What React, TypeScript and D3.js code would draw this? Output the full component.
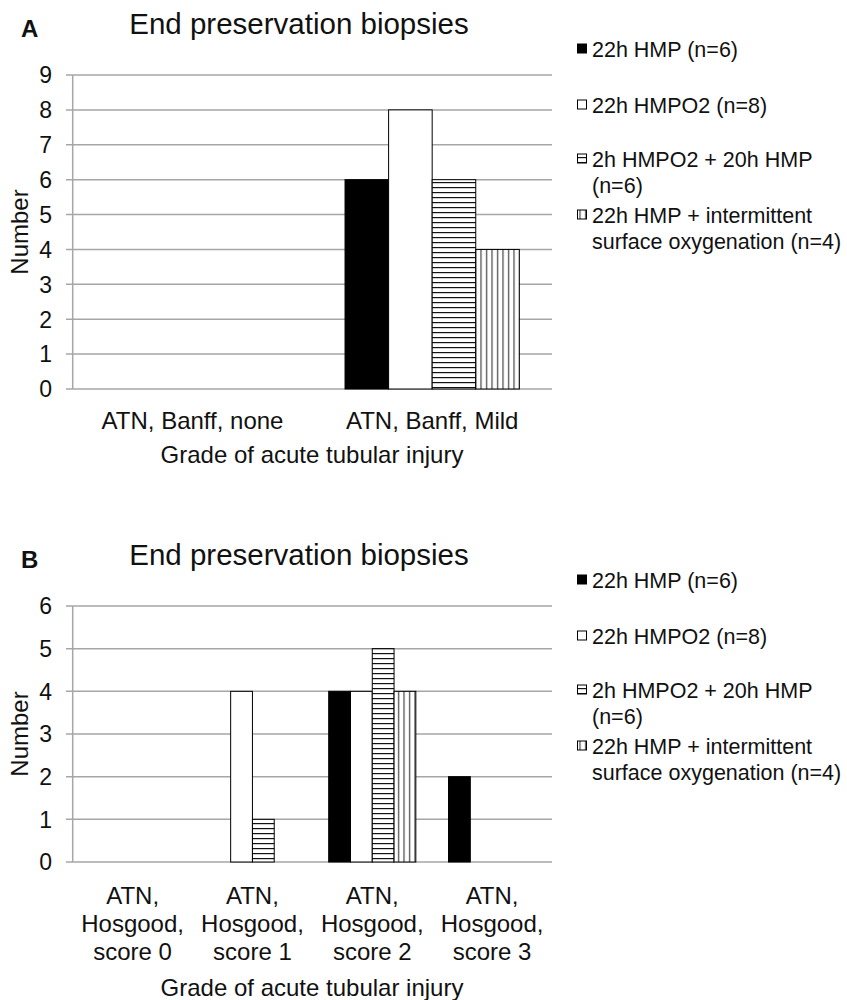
import { useEffect, useRef } from "react";
import * as d3 from "d3";

// legend text (wraps to two lines like the original)
const legendLines = [["22h HMP (n=6)"], ["22h HMPO2 (n=8)"], ["2h HMPO2 + 20h HMP", "(n=6)"], ["22h HMP + intermittent", "surface oxygenation (n=4)"]];

// panel A: Banff grade
const banffCats = ["ATN, Banff, none", "ATN, Banff, Mild"];
const banffHMP = [0, 6];
const banffHMPO2 = [0, 8];
const banffMixed = [0, 6];
const banffSurface = [0, 4];
const banffTicks = [0, 1, 2, 3, 4, 5, 6, 7, 8, 9];

// panel B: Hosgood score
const hosgoodCats = [["ATN,", "Hosgood,", "score 0"], ["ATN,", "Hosgood,", "score 1"], ["ATN,", "Hosgood,", "score 2"], ["ATN,", "Hosgood,", "score 3"]];
const hosgoodHMP = [0, 0, 4, 2];
const hosgoodHMPO2 = [0, 4, 4, 0];
const hosgoodMixed = [0, 1, 5, 0];
const hosgoodSurface = [0, 0, 4, 0];
const hosgoodTicks = [0, 1, 2, 3, 4, 5, 6];

const FONT = "'Liberation Sans', Arial, sans-serif";
const fills = ["#000", "#fff", "url(#hstripe)", "url(#vstripe)"];

const App = () => {
  const ref = useRef<SVGSVGElement>(null);

  useEffect(() => {
    const svg = d3.select(ref.current);
    svg.selectAll("*").remove();

    const defs = svg.append("defs");
    const h = defs.append("pattern").attr("id", "hstripe").attr("patternUnits", "userSpaceOnUse").attr("width", 6).attr("height", 5);
    h.append("rect").attr("width", 6).attr("height", 5).attr("fill", "#fff");
    h.append("rect").attr("y", 2).attr("width", 6).attr("height", 1.2).attr("fill", "#111");
    const v = defs.append("pattern").attr("id", "vstripe").attr("patternUnits", "userSpaceOnUse").attr("width", 5.5).attr("height", 6);
    v.append("rect").attr("width", 5.5).attr("height", 6).attr("fill", "#fff");
    v.append("rect").attr("x", 2).attr("width", 1.1).attr("height", 6).attr("fill", "#333");

    const drawPanel = (
      top: number,
      letter: string,
      cats: string[][],
      values: number[][],
      ticks: number[],
      plotBottom: number,
      catBaseline: number,
      gradeBaseline: number
    ) => {
      const g = svg.append("g").attr("transform", `translate(0,${top})`);
      const plotTop = 75;
      const x = d3.scaleBand<number>().domain(d3.range(cats.length)).range([72.7, 552]);
      const xs = d3.scaleBand<number>().domain(d3.range(values.length)).range([0, x.bandwidth()]).paddingOuter(0.75);
      const y = d3.scaleLinear().domain([0, d3.max(ticks)!]).range([plotBottom, plotTop]);

      // letter + title
      g.append("text").attr("x", 21).attr("y", 37).attr("font-family", FONT).attr("font-weight", "bold").attr("font-size", 24).attr("fill", "#111").text(letter);
      g.append("text").attr("x", 299).attr("y", 34).attr("text-anchor", "middle").attr("font-family", FONT).attr("font-size", 29.5).attr("fill", "#111").text("End preservation biopsies");

      // grid lines + ticks
      const grid = g.append("g");
      grid.selectAll("line.grid").data(ticks).enter().append("line")
        .attr("x1", 66).attr("x2", 552).attr("y1", (d) => y(d)).attr("y2", (d) => y(d))
        .attr("stroke", "#a6a6a6").attr("stroke-width", 1.5);
      grid.append("line").attr("x1", 72.7).attr("x2", 72.7).attr("y1", y(d3.max(ticks)!)).attr("y2", y(0))
        .attr("stroke", "#a6a6a6").attr("stroke-width", 1.5);
      g.selectAll("text.tick").data(ticks).enter().append("text")
        .attr("x", 52).attr("y", (d) => y(d)).attr("dy", "0.36em").attr("text-anchor", "end")
        .attr("font-family", FONT).attr("font-size", 23).attr("fill", "#111").text((d) => d);

      // bars
      values.forEach((series, si) => {
        g.append("g").selectAll("rect").data(series.map((val, ci) => ({ val, ci })).filter((d) => d.val > 0)).enter().append("rect")
          .attr("x", (d) => x(d.ci)! + xs(si)!)
          .attr("y", (d) => y(d.val))
          .attr("width", xs.bandwidth())
          .attr("height", (d) => y(0) - y(d.val))
          .attr("fill", fills[si])
          .attr("stroke", "#000").attr("stroke-width", 1);
      });

      // category labels
      cats.forEach((lines, ci) => {
        const t = g.append("text").attr("text-anchor", "middle").attr("font-family", FONT).attr("font-size", 24).attr("fill", "#111");
        lines.forEach((ln, li) => {
          t.append("tspan").attr("x", x(ci)! + x.bandwidth() / 2).attr("y", catBaseline + li * 28).text(ln);
        });
      });
      g.append("text").attr("x", 312).attr("y", gradeBaseline).attr("text-anchor", "middle").attr("font-family", FONT).attr("font-size", 24).attr("fill", "#111").text("Grade of acute tubular injury");

      // y axis title
      const midY = (y(0) + y(d3.max(ticks)!)) / 2;
      g.append("text").attr("transform", `translate(28,${midY}) rotate(-90)`).attr("text-anchor", "middle")
        .attr("font-family", FONT).attr("font-size", 24).attr("fill", "#111").text("Number");

      // legend
      const legendBase = [-18, 38, 92, 118, 148, 174];
      let k = 0;
      legendLines.forEach((lines, si) => {
        lines.forEach((ln, li) => {
          const by = plotTop + legendBase[k++];
          if (li === 0) {
            g.append("rect").attr("x", 577.5).attr("y", by - 13).attr("width", 9).attr("height", 9)
              .attr("fill", fills[si]).attr("stroke", "#000").attr("stroke-width", 1);
          }
          g.append("text").attr("x", 592).attr("y", by).attr("font-family", FONT).attr("font-size", 21.5).attr("fill", "#111").text(ln);
        });
      });
    };

    drawPanel(0, "A", banffCats.map((c) => [c]), [banffHMP, banffHMPO2, banffMixed, banffSurface], banffTicks, 389, 429, 463);
    drawPanel(531, "B", hosgoodCats, [hosgoodHMP, hosgoodHMPO2, hosgoodMixed, hosgoodSurface], hosgoodTicks, 862 - 531, 904 - 531, 996 - 531);
  }, []);

  return <svg ref={ref} width={847} height={1000} style={{ position: "absolute", left: 0, top: 0, background: "#fff" }} />;
};

export default App;
